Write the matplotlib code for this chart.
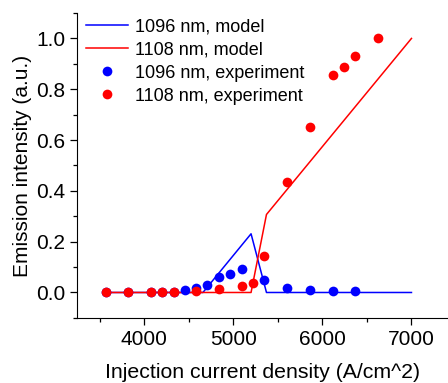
import matplotlib
matplotlib.use('Agg')
import matplotlib.pyplot as plt
from matplotlib.ticker import MultipleLocator, FormatStrFormatter

plt.rcParams['font.family'] = ['Liberation Sans', 'DejaVu Sans']

# model curves
blue_model_x = [3570, 4660, 5200, 5373, 7000]
blue_model_y = [0.0, 0.0, 0.231, 0.0, 0.0]
red_model_x = [3570, 5200, 5373, 7000]
red_model_y = [0.0, 0.0, 0.307, 1.0]

# experiment points
blue_exp_x = [3570, 3820, 4075, 4200, 4330, 4457, 4584, 4711, 4838, 4965, 5093,
              5347, 5605, 5860, 6117, 6364]
blue_exp_y = [0.0, 0.0, 0.0, 0.0, 0.0, 0.01, 0.018, 0.03, 0.059, 0.073, 0.091,
              0.05, 0.016, 0.01, 0.005, 0.004]
red_exp_x = [3570, 3820, 4075, 4200, 4330, 4584, 4838, 5093, 5220, 5347, 5602,
             5860, 6114, 6241, 6368, 6623]
red_exp_y = [0.0, 0.0, 0.0, 0.0, 0.0, 0.004, 0.013, 0.025, 0.036, 0.142, 0.434,
             0.652, 0.856, 0.886, 0.929, 1.0]

fig = plt.figure(figsize=(4.48, 3.83), dpi=100)
ax = fig.add_axes([0.1725, 0.17, 0.8275, 0.796])

ax.plot(blue_model_x, blue_model_y, color='#0000ff', lw=1.1, label='1096 nm, model')
ax.plot(red_model_x, red_model_y, color='#ff0000', lw=1.1, label='1108 nm, model')
ax.plot(blue_exp_x, blue_exp_y, 'o', color='#0000ff', ms=7, mec='none', label='1096 nm, experiment')
ax.plot(red_exp_x, red_exp_y, 'o', color='#ff0000', ms=7, mec='none', label='1108 nm, experiment')

ax.set_xlim(3250, 7410)
ax.set_ylim(-0.1, 1.1)
ax.xaxis.set_major_locator(MultipleLocator(1000))
ax.xaxis.set_minor_locator(MultipleLocator(500))
ax.yaxis.set_major_locator(MultipleLocator(0.2))
ax.yaxis.set_minor_locator(MultipleLocator(0.1))
ax.yaxis.set_major_formatter(FormatStrFormatter('%.1f'))

ax.spines['top'].set_visible(False)
ax.spines['right'].set_visible(False)
ax.tick_params(which='major', direction='out', length=5, width=0.9, labelsize=15)
ax.tick_params(which='minor', direction='out', length=3, width=0.9)

ax.set_xlabel('Injection current density (A/cm^2)', fontsize=15.3, labelpad=10)
ax.set_ylabel('Emission intensity (a.u.)', fontsize=15, labelpad=3)

ax.legend(loc='upper left', bbox_to_anchor=(0.0, 1.011), frameon=False, fontsize=13,
          handlelength=2.33, handletextpad=0.39, labelspacing=0.33, borderaxespad=0.1)

fig.savefig('out.png', dpi=100)
